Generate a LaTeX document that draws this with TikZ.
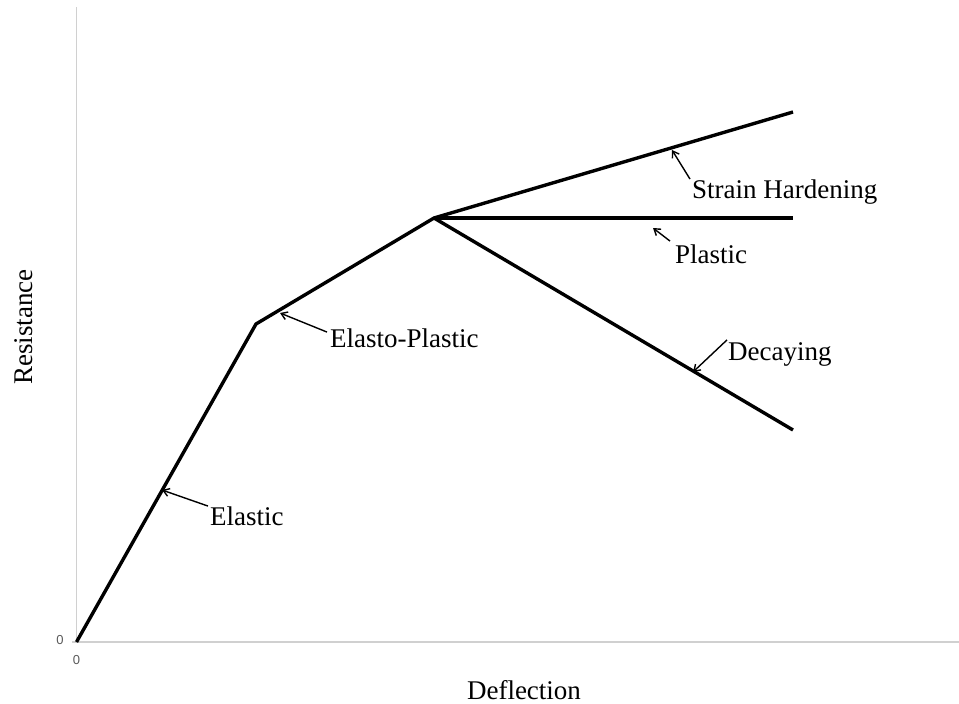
\documentclass[tikz,border=0pt]{standalone}
\usepackage{fontspec}
\setmainfont{Liberation Serif}
\newfontfamily\tickfont{Liberation Sans}
\usepackage{xcolor}
\usetikzlibrary{arrows.meta}

\definecolor{axisgray}{HTML}{D0D0D0}
\definecolor{tickgray}{HTML}{595959}

\begin{document}
\begin{tikzpicture}[x=1pt, y=-1pt,
  axis/.style={draw=axisgray, line width=1.6pt},
  curve/.style={line width=3.4pt, line join=miter},
  lbl/.style={anchor=base west, inner sep=0pt, font=\fontsize{27}{30}\selectfont},
  tick/.style={inner sep=0pt, text=tickgray, font=\tickfont\fontsize{13}{14}\selectfont},
  pointer/.style={->, line width=1.4pt},
  >={Straight Barb[length=6pt, width=8pt]}]
\useasboundingbox (0,0) rectangle (959,704);
\draw[axis] (76.5,7) -- (76.5,642);
\draw[axis] (72,642) -- (959,642);
\node[tick] (z0) at (60,640) {0};
\node[tick] (z1) at (76.5,660) {0};
\node[font=\fontsize{27}{30}\selectfont, rotate=90] (res) at (24,327) {Resistance};
\node[font=\fontsize{27}{30}\selectfont] (def) at (524,690) {Deflection};
% response curve
\coordinate (o) at (76.5,642);
\coordinate (y1) at (256,324);
\coordinate (y2) at (434,218);
\coordinate (sh) at (793,112);
\coordinate (pl) at (793,218);
\coordinate (dc) at (793,430);
\draw[curve] (o) -- (y1) -- (y2) -- (sh);
\draw[curve] (y2) -- (pl);
\draw[curve] (y2) -- (dc);
% labels
\node[lbl] (el) at (210,525) {Elastic};
\node[lbl] (ep) at (330,347) {Elasto-Plastic};
\node[lbl] (st) at (692,198) {Strain Hardening};
\node[lbl] (pa) at (675,263) {Plastic};
\node[lbl] (de) at (728,360) {Decaying};
\coordinate (elp) at (162,490);
\coordinate (epp) at (280,313);
\coordinate (stp) at (672,150);
\coordinate (pap) at (653,228);
\coordinate (dep) at (693,372);
\draw[pointer] ([xshift=-2pt]el.north west) -- (elp);
\draw[pointer] ([xshift=-3pt,yshift=-4pt]ep.north west) -- (epp);
\draw[pointer] ([xshift=-2pt]st.north west) -- (stp);
\draw[pointer] ([xshift=-5pt,yshift=3pt]pa.north west) -- (pap);
\draw[pointer] ([xshift=-1pt,yshift=2pt]de.north west) -- (dep);
\end{tikzpicture}
\end{document}
